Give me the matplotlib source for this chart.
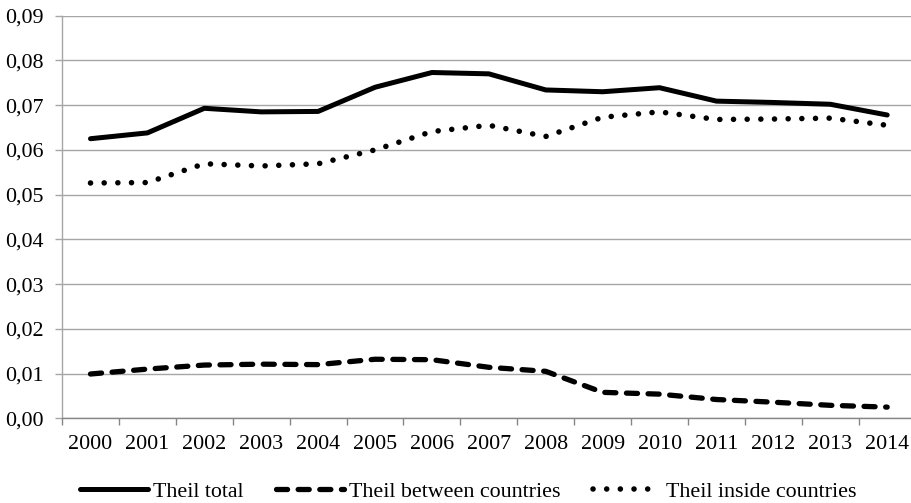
import matplotlib

matplotlib.use("Agg")
import matplotlib.pyplot as plt
from matplotlib.ticker import FixedLocator, FuncFormatter

plt.rcParams["font.family"] = ["Liberation Serif", "DejaVu Serif"]
plt.rcParams["font.size"] = 15.8

years = ["2000", "2001", "2002", "2003", "2004", "2005", "2006", "2007",
         "2008", "2009", "2010", "2011", "2012", "2013", "2014"]
theil_total = [0.0625, 0.0638, 0.0693, 0.0685, 0.0686, 0.0740, 0.0773, 0.0770,
               0.0734, 0.0730, 0.0739, 0.0709, 0.0706, 0.0702, 0.0678]
theil_between = [0.0099, 0.0110, 0.0119, 0.0121, 0.0120, 0.0132, 0.0131, 0.0114,
                 0.0105, 0.0058, 0.0054, 0.0042, 0.0036, 0.0029, 0.0025]
theil_inside = [0.0526, 0.0527, 0.0569, 0.0564, 0.0569, 0.0600, 0.0641, 0.0655,
                0.0630, 0.0673, 0.0685, 0.0668, 0.0669, 0.0671, 0.0655]
y_ticks = [0.00, 0.01, 0.02, 0.03, 0.04, 0.05, 0.06, 0.07, 0.08, 0.09]

GRID = "#a6a6a6"
AXIS = "#868686"

fig = plt.figure(figsize=(9.11, 5.03), dpi=100)
ax = fig.add_axes([0.0681, 0.1684, 0.937, 0.8004])

x = list(range(len(years)))
ax.plot(x, theil_total, color="black", lw=3.6, solid_capstyle="round",
        solid_joinstyle="round", label="Theil total")
ax.plot(x, theil_between, color="black", lw=3.8, dash_capstyle="round",
        linestyle=(0, (2.1, 2.0)), label="Theil between countries")
ax.plot(x, theil_inside, color="black", lw=4.0, dash_capstyle="round",
        linestyle=(0, (0.01, 2.45)), label="Theil inside countries")

ax.set_xlim(-0.5, len(years) - 0.5)
ax.set_ylim(0, 0.09)

# category labels in the middle, tick marks on the boundaries
ax.set_xticks(x, labels=years)
ax.xaxis.set_minor_locator(FixedLocator([i - 0.5 for i in range(len(years) + 1)]))
ax.tick_params(axis="x", which="major", length=0, pad=12)
ax.tick_params(axis="x", which="minor", length=5, color=AXIS, width=1)

ax.set_yticks(y_ticks)
ax.yaxis.set_major_formatter(FuncFormatter(lambda v, _: f"{v:.2f}".replace(".", ",")))
ax.tick_params(axis="y", length=5, color=GRID, width=1, pad=8)
ax.grid(axis="y", color=GRID, lw=1)
ax.set_axisbelow(True)

for side in ("top", "right"):
    ax.spines[side].set_visible(False)
ax.spines["left"].set_color(GRID)
ax.spines["bottom"].set_color(AXIS)
ax.spines["left"].set_linewidth(1)
ax.spines["bottom"].set_linewidth(1)

fig.legend(loc="center", bbox_to_anchor=(0.514, 0.022), ncol=3, frameon=False,
           handlelength=3.1, handletextpad=0.2, columnspacing=1.5, borderpad=0)

fig.savefig("out.png", dpi=100)
